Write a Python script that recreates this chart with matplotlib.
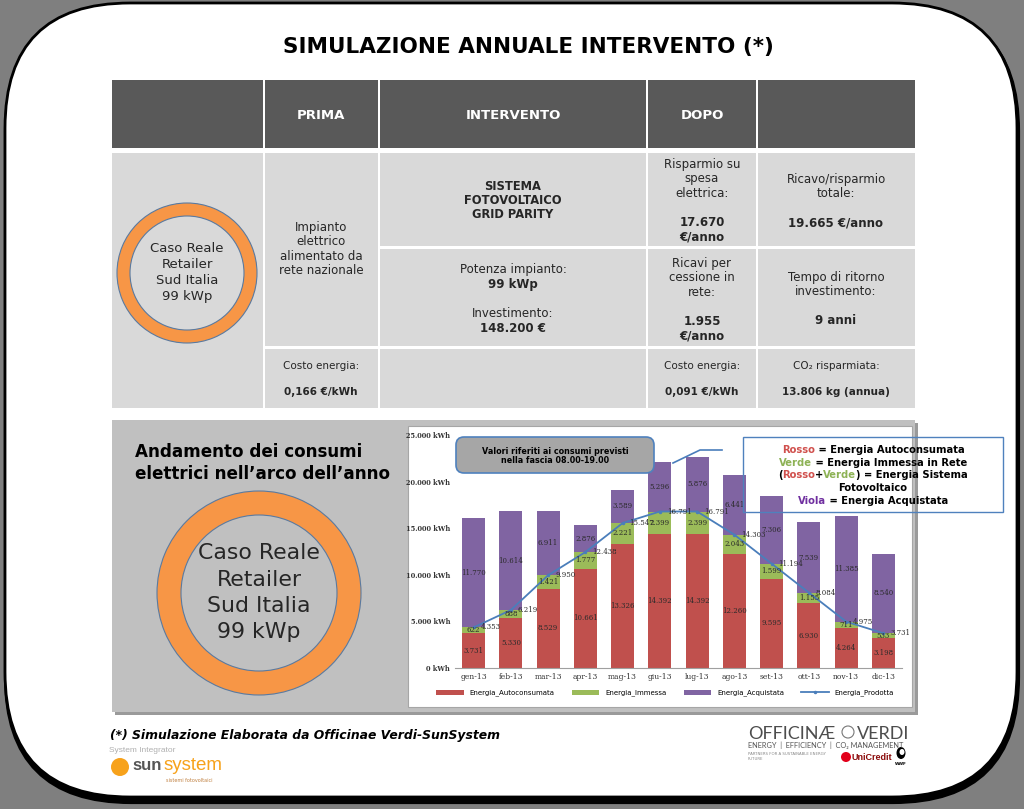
import numpy as np
import matplotlib.pyplot as plt
from matplotlib.patches import FancyBboxPatch, Rectangle, Wedge, Circle, Ellipse

# dati del grafico (kWh per mese)
mesi = ['gen-13', 'feb-13', 'mar-13', 'apr-13', 'mag-13', 'giu-13',
        'lug-13', 'ago-13', 'set-13', 'ott-13', 'nov-13', 'dic-13']
autoconsumata = [3731, 5330, 8529, 10661, 13326, 14392, 14392, 12260, 9595, 6930, 4264, 3198]
immessa = [622, 888, 1421, 1777, 2221, 2399, 2399, 2043, 1599, 1155, 711, 533]
acquistata = [11770, 10614, 6911, 2876, 3589, 5296, 5876, 6441, 7306, 7539, 11385, 8540]
prodotta = [4353, 6219, 9950, 12438, 15547, 16791, 16791, 14303, 11194, 8084, 4975, 3731]
y_ticks = [0, 5000, 10000, 15000, 20000, 25000]


def it(n):
    return f'{n:,}'.replace(',', '.')


RED, GREEN, PURPLE, BLUE = '#C0504D', '#9BBB59', '#8064A2', '#4A7EBB'
ORANGE = '#F79646'
HEAD, BODY = '#595959', '#D9D9D9'
INK = '#262626'

fig = plt.figure(figsize=(10.24, 8.09), dpi=100)
fig.patch.set_facecolor('#7f7f7f')

bg = fig.add_axes([0, 0, 1, 1])
bg.set_xlim(0, 1024)
bg.set_ylim(809, 0)
bg.axis('off')

# slide bianca con bordo arrotondato
bg.add_patch(FancyBboxPatch((6, 6), 1012, 796, boxstyle='round,pad=0,rounding_size=125',
                            facecolor='black', edgecolor='black', lw=3))
bg.add_patch(FancyBboxPatch((5, 3), 1012, 794, boxstyle='round,pad=0,rounding_size=125',
                            facecolor='white', edgecolor='black', lw=2))

bg.text(528, 47, 'SIMULAZIONE ANNUALE INTERVENTO (*)', ha='center', va='center',
        fontsize=15.5, fontweight='bold', color='black')


def cell(x0, x1, y0, y1, color):
    bg.add_patch(Rectangle((x0, y0), x1 - x0, y1 - y0, facecolor=color, edgecolor='none'))


def txt(x, y, s, size=8.5, weight='normal', color=INK, **kw):
    bg.text(x, y, s, ha='center', va='center', fontsize=size, fontweight=weight,
            color=color, **kw)


def block(x, y0, lines, size=8.5, step=14.5):
    for i, (s, w) in enumerate(lines):
        if s:
            txt(x, y0 + i * step, s, size=size, weight=w)


# tabella
cols = [(112, 263), (265, 378), (380, 646), (648, 756), (758, 915)]
for x0, x1 in cols:
    cell(x0, x1, 80, 148, HEAD)
cell(112, 263, 153, 408, BODY)
cell(265, 378, 153, 346, BODY)
cell(265, 378, 349, 408, BODY)
for x0, x1 in cols[2:]:
    cell(x0, x1, 153, 246, BODY)
    cell(x0, x1, 249, 346, BODY)
    cell(x0, x1, 349, 408, BODY)

for x, s in [(321, 'PRIMA'), (513, 'INTERVENTO'), (702, 'DOPO')]:
    txt(x, 115, s, size=9.5, weight='bold', color='white')

bg.add_patch(Wedge((187, 273), 70, 0, 360, width=13, facecolor=ORANGE,
                   edgecolor='#5a7aa0', lw=0.8))
block(187, 248, [('Caso Reale', 'normal'), ('Retailer', 'normal'),
                 ('Sud Italia', 'normal'), ('99 kWp', 'normal')], size=9.5, step=16.3)

block(321, 227, [('Impianto', 'normal'), ('elettrico', 'normal'),
                 ('alimentato da', 'normal'), ('rete nazionale', 'normal')])
block(513, 186, [('SISTEMA', 'bold'), ('FOTOVOLTAICO', 'bold'), ('GRID PARITY', 'bold')],
      size=8.3, step=14.3)
block(513, 270, [('Potenza impianto:', 'normal'), ('99 kWp', 'bold'), ('', 'normal'),
                 ('Investimento:', 'normal'), ('148.200 €', 'bold')])
block(702, 164, [('Risparmio su', 'normal'), ('spesa', 'normal'), ('elettrica:', 'normal'),
                 ('', 'normal'), ('17.670', 'bold'), ('€/anno', 'bold')])
block(836, 179, [('Ricavo/risparmio', 'normal'), ('totale:', 'normal'), ('', 'normal'),
                 ('19.665 €/anno', 'bold')])
block(702, 263, [('Ricavi per', 'normal'), ('cessione in', 'normal'), ('rete:', 'normal'),
                 ('', 'normal'), ('1.955', 'bold'), ('€/anno', 'bold')])
block(836, 277, [('Tempo di ritorno', 'normal'), ('investimento:', 'normal'), ('', 'normal'),
                 ('9 anni', 'bold')])
for x, a, b in [(321, 'Costo energia:', '0,166 €/kWh'),
                (702, 'Costo energia:', '0,091 €/kWh'),
                (836, 'CO₂ risparmiata:', '13.806 kg (annua)')]:
    txt(x, 366, a, size=7.5)
    txt(x, 392, b, size=7.5, weight='bold')

# pannello inferiore
bg.add_patch(Rectangle((115, 423), 803, 292, facecolor='#9a9a9a', edgecolor='none'))
bg.add_patch(Rectangle((112, 420), 803, 292, facecolor='#C0C0C0', edgecolor='none'))
bg.add_patch(Rectangle((408, 426), 504, 281, facecolor='white', edgecolor='#a6a6a6', lw=0.8))

bg.text(135, 452, 'Andamento dei consumi', fontsize=12.1, fontweight='bold',
        ha='left', va='center', color='black')
bg.text(135, 474, 'elettrici nell’arco dell’anno', fontsize=12.1, fontweight='bold',
        ha='left', va='center', color='black')
bg.add_patch(Wedge((259, 593), 102, 0, 360, width=24, facecolor=ORANGE,
                   edgecolor='#5a7aa0', lw=0.8))
block(259, 553, [('Caso Reale', 'normal'), ('Retailer', 'normal'),
                 ('Sud Italia', 'normal'), ('99 kWp', 'normal')], size=15.8, step=26.5)

# grafico a barre
ax = fig.add_axes([455 / 1024, 1 - 668 / 809, 447 / 1024, 233 / 809])
ax.patch.set_alpha(0)
x = np.arange(len(mesi))
w = 0.62
b1 = ax.bar(x, autoconsumata, w, color=RED, label='Energia_Autoconsumata')
b2 = ax.bar(x, immessa, w, bottom=autoconsumata, color=GREEN, label='Energia_Immessa')
b3 = ax.bar(x, acquistata, w, bottom=np.add(autoconsumata, immessa), color=PURPLE,
            label='Energia_Acquistata')
ln, = ax.plot(x, prodotta, color=BLUE, lw=1.3, marker='o', ms=1.5,
              label='Energia_Prodotta')

lab = dict(label_type='center', fontsize=5, family='DejaVu Serif', color='#2b2b2b')
ax.bar_label(b1, labels=[it(v) for v in autoconsumata], **lab)
ax.bar_label(b2, labels=[it(v) for v in immessa], **lab)
ax.bar_label(b3, labels=[it(v) for v in acquistata], **lab)
for xi, v in zip(x, prodotta):
    ax.annotate(it(v), (xi, v), xytext=(5, 0), textcoords='offset points',
                ha='left', va='center', fontsize=5, family='DejaVu Serif', color='#2b2b2b')

ax.set_xlim(-0.5, len(mesi) - 0.5)
ax.set_ylim(0, 25000)
ax.set_yticks(y_ticks)
ax.set_yticklabels([f'{it(t)} kWh' for t in y_ticks], fontsize=4.8,
                   family='DejaVu Serif', fontweight='bold', color='#333')
ax.set_xticks(x)
ax.set_xticklabels(mesi, fontsize=5.5, family='DejaVu Serif', color='#333')
ax.tick_params(length=0, pad=3.5)
for s in ['top', 'right', 'left']:
    ax.spines[s].set_visible(False)
ax.spines['bottom'].set_color('#a0a0a0')
ax.spines['bottom'].set_linewidth(0.8)

fig.legend(handles=[b1, b2, b3, ln], loc='center', bbox_to_anchor=(665 / 1024, 1 - 693 / 809),
           ncol=4, fontsize=5, frameon=False, handlelength=4, handleheight=0.7,
           columnspacing=2.5)

# riquadri di commento sopra il grafico
top = fig.add_axes([0, 0, 1, 1], zorder=5)
top.set_xlim(0, 1024)
top.set_ylim(809, 0)
top.axis('off')
top.patch.set_alpha(0)

top.add_patch(FancyBboxPatch((456, 437), 198, 36, boxstyle='round,pad=0,rounding_size=8',
                             facecolor='#A6A6A6', edgecolor='#4F81BD', lw=1.2))
top.text(555, 451, 'Valori riferiti ai consumi previsti', ha='center', va='center',
         fontsize=5.8, fontweight='bold', color='black')
top.text(555, 460, 'nella fascia 08.00-19.00', ha='center', va='center',
         fontsize=5.8, fontweight='bold', color='black')
top.plot([673, 700, 722], [463, 450, 450], color=BLUE, lw=1.2)

top.add_patch(Rectangle((743, 437), 260, 75, facecolor='none', edgecolor='#4F81BD', lw=1))
renderer = fig.canvas.get_renderer()


def rich_line(xc, y, pieces, size=7.2):
    texts = []
    total = 0
    for s, c in pieces:
        t = top.text(0, y, s, color=c, fontsize=size, fontweight='bold', ha='left', va='center')
        wpx = t.get_window_extent(renderer).width
        texts.append((t, wpx))
        total += wpx
    cur = xc - total / 2
    for t, wpx in texts:
        t.set_x(cur)
        cur += wpx


rich_line(873, 450, [('Rosso', '#D0504D'), (' = Energia Autoconsumata', 'black')])
rich_line(873, 463, [('Verde', '#8DB255'), (' = Energia Immessa in Rete', 'black')])
rich_line(873, 475, [('(', 'black'), ('Rosso', '#D0504D'), ('+', 'black'),
                     ('Verde', '#8DB255'), (') = Energia Sistema', 'black')])
rich_line(873, 488, [('Fotovoltaico', 'black')])
rich_line(873, 501, [('Viola', '#7030A0'), (' = Energia Acquistata', 'black')])

# piè di pagina e loghi
bg.text(110, 735, '(*) Simulazione Elaborata da Officinae Verdi-SunSystem', ha='left',
        va='center', fontsize=8.9, fontweight='bold', style='italic', color='black')
bg.text(109, 750, 'System Integrator', ha='left', va='center', fontsize=6,
        family='Liberation Sans', color='#b0b0b0')
bg.add_patch(Circle((120, 767), 9, facecolor='#F7A21B', edgecolor='none'))
bg.text(132, 765, 'sun', ha='left', va='center', fontsize=12, fontweight='bold',
        family='Liberation Sans', color='#555555')
bg.text(164, 765, 'system', ha='left', va='center', fontsize=13.5,
        family='Liberation Sans', color='#F7A21B')
bg.text(166, 780, 'sistemi fotovoltaici', ha='left', va='center', fontsize=3.5, color='#c08040')

bg.text(748, 734, 'OFFICINÆ', ha='left', va='center', fontsize=13, family='Lato', color='#4d4d4d')
bg.add_patch(Circle((848, 732), 6, facecolor='none', edgecolor='#777777', lw=0.8))
bg.text(857, 734, 'VERDI', ha='left', va='center', fontsize=13, family='Lato', color='#4d4d4d')
bg.text(748, 745, 'ENERGY  |  EFFICIENCY  |  CO₂ MANAGEMENT', ha='left', va='center',
        fontsize=5.3, family='Lato', color='#555555')
bg.text(748, 754, 'PARTNERS FOR A SUSTAINABLE ENERGY', ha='left', va='center',
        fontsize=2.8, color='#888888')
bg.text(748, 759, 'FUTURE', ha='left', va='center', fontsize=2.8, color='#888888')
bg.add_patch(Circle((846, 757), 5, facecolor='#E2001A', edgecolor='none'))
bg.text(852, 757, 'UniCredit', ha='left', va='center', fontsize=6.5, fontweight='bold',
        family='Liberation Sans', color='#8b0a0a')
bg.add_patch(Ellipse((901, 753), 9, 12, facecolor='black', edgecolor='none'))
bg.add_patch(Ellipse((902, 752), 5, 6, facecolor='white', edgecolor='none'))
bg.text(901, 764, 'WWF', ha='center', va='center', fontsize=3, fontweight='bold', color='black')

fig.savefig('out.png', dpi=100)
